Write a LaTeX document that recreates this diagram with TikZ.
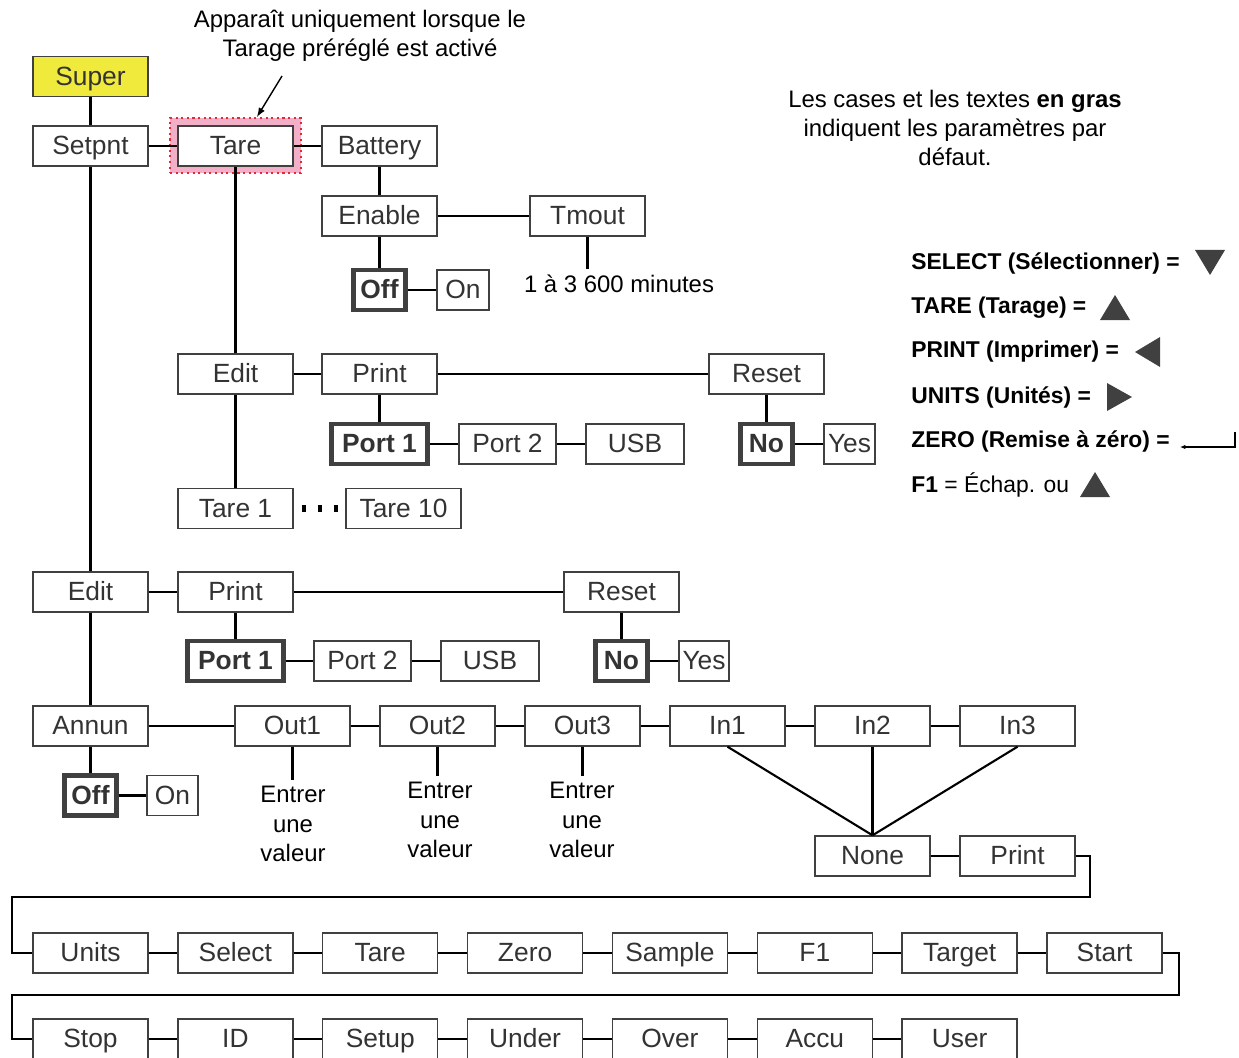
\documentclass[tikz,border=0pt]{standalone}
\usepackage{fontspec}
\setmainfont{Liberation Sans}
\usetikzlibrary{arrows.meta}
\definecolor{boxgray}{RGB}{64,64,64}
\definecolor{txtgray}{RGB}{51,51,51}
\definecolor{superyellow}{RGB}{240,234,60}
\definecolor{tarepink}{RGB}{241,176,200}
\definecolor{dotred}{RGB}{228,40,52}
\begin{document}
\begin{tikzpicture}[x=0.02cm, y=-0.02cm,
  menu/.style={draw=boxgray, line width=0.8pt, fill=white, text=txtgray,
    minimum width=2.3cm, minimum height=0.8cm, inner sep=0pt,
    text height=10.7pt, text depth=0.6pt,
    font=\fontsize{15}{18}\selectfont},
  dflt/.style={menu, line width=2.4pt, font=\fontsize{15}{18}\selectfont\bfseries},
  note/.style={align=center, font=\fontsize{13.6}{16.6}\selectfont},
  key/.style={anchor=west, inner sep=0pt, font=\fontsize{13}{16}\selectfont},
  wire/.style={line width=1.2pt},
  btn/.style={fill=boxgray}]
  \useasboundingbox (0,0) rectangle (1239,1057);

  \node[note] (hint) at (360,36) {Apparaît uniquement lorsque le\\Tarage préréglé est activé};
  \node[note] (legend) at (955,128) {Les cases et les textes \textbf{en gras}\\indiquent les paramètres par\\défaut.};

  \node[menu, fill=superyellow] (super) at (90.5,76.5) {Super};
  \node[menu] (setpnt) at (90.5,146) {Setpnt};
  \node[draw=dotred, fill=tarepink, dotted, line width=1.2pt, minimum width=2.62cm, minimum height=1.1cm] (hl) at (235.5,145.5) {};
  \node[menu, line width=1.4pt] (tare) at (235.5,146) {Tare};
  \node[menu] (battery) at (379.5,146) {Battery};
  \node[menu] (enable) at (379.5,216) {Enable};
  \node[menu] (tmout) at (587.5,216) {Tmout};
  \node[note] (tmtxt) at (619,284) {1 à 3 600 minutes};
  \node[dflt, minimum width=1.04cm] (off1) at (379.5,290) {Off};
  \node[menu, minimum width=1.04cm] (on1) at (463,290) {On};

  \node[menu] (edit1) at (235.5,374) {Edit};
  \node[menu] (print1) at (379.5,374) {Print};
  \node[menu] (reset1) at (766.5,374) {Reset};
  \node[dflt, minimum width=1.92cm] (porta1) at (379.5,444) {Port 1};
  \node[menu, minimum width=1.94cm] (porta2) at (507.5,444) {Port 2};
  \node[menu, minimum width=1.96cm] (usba) at (635,444) {USB};
  \node[dflt, minimum width=1.04cm] (noa) at (766.5,444) {No};
  \node[menu, minimum width=1.02cm] (yesa) at (849.5,444) {Yes};
  \node[menu] (tare1) at (235.5,508.5) {Tare 1};
  \node[menu] (tare10) at (403.5,508.5) {Tare 10};

  \node[menu] (edit2) at (90.5,592) {Edit};
  \node[menu] (print2) at (235.5,592) {Print};
  \node[menu] (reset2) at (621.5,592) {Reset};
  \node[dflt, minimum width=1.92cm] (portb1) at (235.5,661) {Port 1};
  \node[menu, minimum width=1.94cm] (portb2) at (362.5,661) {Port 2};
  \node[menu, minimum width=1.96cm] (usbb) at (490,661) {USB};
  \node[dflt, minimum width=1.04cm] (nob) at (621.5,661) {No};
  \node[menu, minimum width=1cm] (yesb) at (704,661) {Yes};

  \node[menu] (annun) at (90.5,726) {Annun};
  \node[menu] (out1) at (292.5,726) {Out1};
  \node[menu] (out2) at (437.5,726) {Out2};
  \node[menu] (out3) at (582.5,726) {Out3};
  \node[menu] (in1) at (727.5,726) {In1};
  \node[menu] (in2) at (872.5,726) {In2};
  \node[menu] (in3) at (1017.5,726) {In3};
  \node[dflt, minimum width=1.04cm] (off2) at (90.5,795.5) {Off};
  \node[menu, minimum width=1.02cm] (on2) at (172.5,795.5) {On};
  \node[note] (val1) at (293,824) {Entrer\\une\\valeur};
  \node[note] (val2) at (440,820) {Entrer\\une\\valeur};
  \node[note] (val3) at (582,820) {Entrer\\une\\valeur};
  \node[menu] (none) at (872.5,856) {None};
  \node[menu] (print3) at (1017.5,856) {Print};

  \foreach \lbl [count=\i from 0] in {Units,Select,Tare,Zero,Sample,F1,Target,Start}
    \node[menu] (func\i) at (90.5+144.86*\i,953) {\lbl};
  \foreach \lbl [count=\i from 0] in {Stop,ID,Setup,Under,Over,Accu,User}
    \node[menu] (funcb\i) at (90.5+144.86*\i,1039) {\lbl};

  \draw[wire] (super) -- (setpnt) -- (tare) -- (battery);
  \draw[wire] (setpnt) -- (edit2) -- (annun) -- (off2) -- (on2);
  \draw[wire] (tare) -- (edit1) -- (tare1);
  \draw[wire] (battery) -- (enable) -- (tmout);
  \draw[wire] (enable) -- (off1) -- (on1);
  \draw[wire] (tmout) -- (tmout.south |- tmtxt.north);
  \draw[wire] (edit1) -- (print1) -- (reset1);
  \draw[wire] (print1) -- (porta1) -- (porta2) -- (usba);
  \draw[wire] (reset1) -- (noa) -- (yesa);
  \draw[line width=4pt, dash pattern=on 2.3pt off 6.8pt, dash phase=4.55pt] (tare1) -- (tare10);
  \draw[wire] (edit2) -- (print2) -- (reset2);
  \draw[wire] (print2) -- (portb1) -- (portb2) -- (usbb);
  \draw[wire] (reset2) -- (nob) -- (yesb);
  \draw[wire] (annun) -- (out1) -- (out2) -- (out3) -- (in1) -- (in2) -- (in3);
  \foreach \o in {1,2,3}
    \draw[wire] (out\o) -- (out\o.south |- val\o.north);
  \foreach \n in {1,2,3}
    \draw[wire] (in\n.south) -- (none.north);
  \draw[wire] (none) -- (print3);
  \draw[wire] (print3.east) -| (1090,897) -| (12,953) -- (func0.west);
  \foreach \i [remember=\i as \k (initially 0)] in {1,...,7}
    \draw[wire] (func\k) -- (func\i);
  \draw[wire] (func7.east) -| (1179,995) -| (12,1039) -- (funcb0.west);
  \foreach \i [remember=\i as \k (initially 0)] in {1,...,6}
    \draw[wire] (funcb\k) -- (funcb\i);

  \draw[-latex, line width=0.8pt] (282,76) -- ([xshift=0.43cm]hl.north);

  \node[key] (kselect) at (911,263) {\textbf{SELECT (Sélectionner) =}};
  \node[key] (ktare) at (911,308) {\textbf{TARE (Tarage) =}};
  \node[key] (kprint) at (911,352) {\textbf{PRINT (Imprimer) =}};
  \node[key] (kunits) at (911,397) {\textbf{UNITS (Unités) =}};
  \node[key] (kzero) at (911,441) {\textbf{ZERO (Remise à zéro) =}};
  \node[key] (kfone) at (911,485) {\textbf{F1} = Échap. ou};
  \fill[btn] (1195,250) -- (1225,250) -- (1210,275) -- cycle;
  \fill[btn] (1100,320) -- (1130,320) -- (1115,295) -- cycle;
  \fill[btn] (1160,337) -- (1160,367) -- (1135,352) -- cycle;
  \fill[btn] (1107,383) -- (1107,411) -- (1132,397) -- cycle;
  \draw[line width=0.6pt, -{Latex[length=3pt,width=2.5pt]}] (1235,432) -- (1235,447) -- (1180,447);
  \fill[btn] (1080,497) -- (1110,497) -- (1095,472) -- cycle;
\end{tikzpicture}
\end{document}
